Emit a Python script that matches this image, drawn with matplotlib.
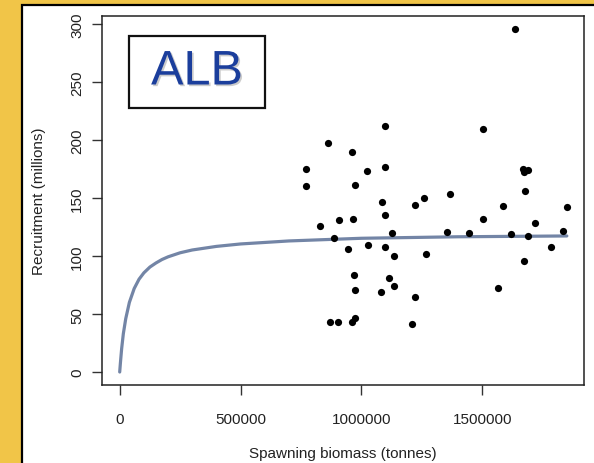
import matplotlib
matplotlib.use("Agg")
import matplotlib.pyplot as plt
from matplotlib.patches import Rectangle
import matplotlib.patheffects as pe

plt.rcParams['font.family'] = ['Liberation Sans', 'DejaVu Sans']

# Observed spawning biomass (tonnes) and recruitment (millions)
biomass = [768900, 768900, 862800, 828400, 886300, 906700, 869100, 903500,
           959900, 973900, 966100, 942600, 970800, 972400, 959900, 972400,
           1022500, 1025600, 1099200, 1097600, 1086700, 1099200, 1127400,
           1099200, 1136800, 1113300, 1136800, 1082100, 1210500, 1221400,
           1221400, 1257400, 1265300, 1365500, 1354500, 1443800, 1503300,
           1501700, 1565900, 1584700, 1617600, 1636400, 1669300, 1674000,
           1689700, 1678700, 1717800, 1688100, 1672500, 1783700, 1835400,
           1849500]
recruit = [174.9, 160.8, 197.3, 126.0, 115.6, 131.4, 42.9, 42.9,
           190.1, 161.6, 132.3, 105.8, 83.4, 70.8, 42.9, 46.6,
           172.9, 109.9, 212.0, 176.9, 146.4, 135.8, 119.7,
           107.9, 100.4, 81.4, 74.2, 69.3, 41.4, 64.4,
           144.1, 149.6, 102.1, 153.9, 121.1, 119.7, 209.1,
           132.3, 72.8, 143.2, 119.1, 295.7, 174.9, 172.6,
           174.3, 155.9, 128.9, 117.6, 95.8, 108.1, 121.7,
           142.6]

# Fitted stock-recruitment curve
curve_S = [0, 3000, 8000, 15000, 25000, 40000, 60000, 80000, 100000, 125000,
           150000, 175000, 200000, 250000, 300000, 400000, 500000, 700000,
           1000000, 1400000, 1850000]
curve_R = [0, 8, 20, 33, 46, 60, 72, 80, 85.5, 90.5,
           94, 97, 99.3, 102.8, 105.2, 108.3, 110.4, 113,
           115.3, 116.6, 117.3]

x_ticks = [0, 500000, 1000000, 1500000]
x_labels = ["0", "500000", "1000000", "1500000"]
y_ticks = [0, 50, 100, 150, 200, 250, 300]
y_labels = ["0", "50", "100", "150", "200", "250", "300"]

W, H = 594, 464
fig = plt.figure(figsize=(W / 100, H / 100), dpi=100)
fig.patch.set_facecolor('#f1c548')

# white panel with black border
panel = Rectangle((22 / W, -0.01), (W - 22) / W + 0.01, (H - 6) / H + 0.01,
                  transform=fig.transFigure, facecolor='white',
                  edgecolor='black', linewidth=1.6, zorder=-10)
fig.patches.append(panel)

left, right = 102.3 / W, 584 / W
bottom, top = (H - 386) / H, (H - 16.7) / H
ax = fig.add_axes([left, bottom, right - left, top - bottom])
ax.set_zorder(1)
ax.set_facecolor('white')

ax.plot(curve_S, curve_R, color='#7385a6', lw=2.3, solid_capstyle='round',
        solid_joinstyle='round', zorder=2)
ax.scatter(biomass, recruit, s=27, color='black', zorder=3, linewidths=0)

ax.set_xlim(-72000, 1921000)
ax.set_ylim(-11.2, 307.2)
ax.set_xticks(x_ticks)
ax.set_xticklabels(x_labels)
ax.set_yticks(y_ticks)
ax.set_yticklabels(y_labels, rotation=90, va='center')

ax.tick_params(axis='both', length=7.2, width=1.0, color='#333333',
               labelsize=11, labelcolor='#222222')
ax.tick_params(axis='x', pad=12)
ax.tick_params(axis='y', pad=6)
for s in ax.spines.values():
    s.set_linewidth(1.1)
    s.set_color('#222222')

ax.set_xlabel("Spawning biomass (tonnes)", fontsize=11, color='#222222',
              labelpad=15)
ax.set_ylabel("Recruitment (millions)", fontsize=11, color='#222222',
              labelpad=17)

# ALB label box
box = Rectangle((129 / W, (H - 109.3) / H), (265 - 129) / W, (109.3 - 36.7) / H,
                transform=fig.transFigure, facecolor='white',
                edgecolor='#111111', linewidth=1.6, zorder=5)
fig.patches.append(box)
fig.text(197 / W, (H - 73) / H, "ALB", fontsize=35, color='#1b3e9c',
         ha='center', va='center', zorder=6,
         path_effects=[pe.withSimplePatchShadow(offset=(1.2, -1.2),
                                                shadow_rgbFace='#999999',
                                                alpha=0.5)])

fig.savefig("out.png", dpi=100, facecolor=fig.get_facecolor())
